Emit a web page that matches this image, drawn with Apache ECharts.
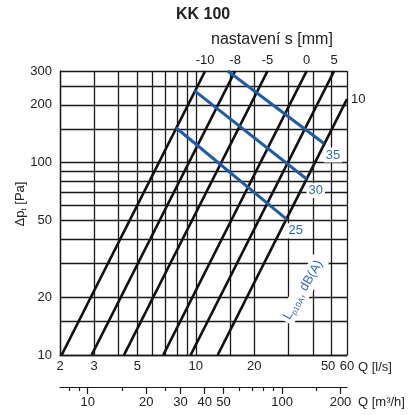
<!DOCTYPE html>
<html>
<head>
<meta charset="utf-8">
<style>
  html, body { margin: 0; padding: 0; background: #fff; }
  #chart { width: 408px; height: 415px; }
</style>
<script src="https://cdn.jsdelivr.net/npm/echarts@6/dist/echarts.min.js"></script>
</head>
<body>
<div id="chart"></div>
<script>
// mřížka a popisky os
const qGrid = [2, 3, 4, 5, 6, 7, 8, 9, 10, 15, 20, 30, 40, 50, 60]
const qLabels = [2, 3, 5, 10, 20, 50, 60]
const pGrid = [10, 15, 20, 30, 40, 50, 60, 70, 80, 90, 100, 150, 200, 250, 300]
const pLabels = [10, 20, 50, 100, 200, 300]
const m3hMajor = [10, 20, 30, 40, 50, 100, 200]
const m3hMinor = [8, 9, 15, 25, 60, 70, 80, 90, 150]

// nastavení s [mm] - koncové body čar [Q l/s, dp Pa]
const settings = ["-10", "-8", "-5", "0", "5", "10"]
const settingLines = [
    [[2.04, 10], [11.17, 300]],
    [[2.91, 10], [15.94, 300]],
    [[4.27, 10], [23.4, 300]],
    [[6.80, 10], [37.2, 300]],
    [[9.41, 10], [51.5, 300]],
    [[12.96, 10], [60, 214]],
]

// hladina hluku Lp10A dB(A)
const soundLevels = ["25", "30", "35"]
const soundLines = [
    [[7.91, 152], [29.4, 50.8]],
    [[9.83, 237], [37.2, 82.3]],
    [[14.6, 300], [45.7, 126]],
]

const font = "'Liberation Sans', Arial, sans-serif"
const ink = "#1a1a1a"
const blue = "#1f5ca8"
const blueText = "#2e6db6"

const chart = echarts.init(document.getElementById("chart"), null, { renderer: "canvas" })

const series = []
settingLines.forEach((pts, i) => {
    const last = i === settingLines.length - 1
    series.push({
        type: "line",
        silent: true,
        symbol: "circle",
        symbolSize: 0.1,
        showSymbol: true,
        z: 3,
        itemStyle: { color: "#111" },
        lineStyle: { color: "#111", width: 2.7 },
        data: [
            { value: pts[0] },
            {
                value: pts[1],
                label: {
                    show: true,
                    formatter: settings[i],
                    position: last ? "right" : "top",
                    distance: 4,
                    color: "#222",
                    fontFamily: font,
                    fontSize: 13,
                },
            },
        ],
    })
})
soundLines.forEach((pts, i) => {
    series.push({
        type: "line",
        silent: true,
        symbol: "circle",
        symbolSize: 0.1,
        showSymbol: true,
        z: 4,
        itemStyle: { color: blue },
        lineStyle: { color: blue, width: 3 },
        data: [
            { value: pts[0] },
            {
                value: pts[1],
                label: {
                    show: true,
                    formatter: soundLevels[i],
                    position: "bottom",
                    distance: 4,
                    offset: [9, 0],
                    color: blueText,
                    fontFamily: font,
                    fontSize: 13,
                    backgroundColor: "#fff",
                    padding: [1, 2],
                },
            },
        ],
    })
})

const tickLabel = { fontFamily: font, fontSize: 13, color: "#222" }

const option = {
    animation: false,
    title: [
        {
            text: "KK 100",
            left: 171,
            top: 2,
            textStyle: { fontFamily: font, fontSize: 16, fontWeight: "bold", color: "#222" },
        },
        {
            text: "nastavení s [mm]",
            left: 206,
            top: 27,
            textStyle: { fontFamily: font, fontSize: 16, fontWeight: "normal", color: "#222" },
        },
    ],
    grid: { left: 60, top: 71, right: 61, bottom: 60, outerBoundsMode: "none" },
    xAxis: [
        {
            type: "log",
            logBase: 10,
            min: 2,
            max: 60,
            position: "bottom",
            name: "Q [l/s]",
            nameLocation: "end",
            nameGap: 11,
            nameMoveOverlap: false,
            nameTextStyle: { ...tickLabel, verticalAlign: "top", padding: [6, 0, 0, 0] },
            axisLine: { show: true, lineStyle: { color: ink, width: 1.3 } },
            axisTick: { show: false, customValues: qGrid },
            axisLabel: {
                ...tickLabel,
                customValues: qLabels,
                margin: 5,
                formatter: v => (v === 50 ? "{l|50}" : String(v)),
                rich: { l: { ...tickLabel, padding: [0, 7, 0, 0] } },
            },
            splitLine: { show: true, lineStyle: { color: ink, width: 1.3 } },
        },
        {
            type: "log",
            logBase: 10,
            min: 7.2,
            max: 216,
            position: "bottom",
            offset: 32,
            name: "Q [m³/h]",
            nameLocation: "end",
            nameGap: 11,
            nameMoveOverlap: false,
            nameTextStyle: { ...tickLabel, verticalAlign: "top", padding: [9, 0, 0, 0] },
            axisLine: { show: true, lineStyle: { color: ink, width: 1.2 } },
            axisTick: { show: true, customValues: m3hMajor, length: 7, lineStyle: { color: ink, width: 1.2 } },
            axisLabel: { ...tickLabel, customValues: m3hMajor, margin: 9 },
            splitLine: { show: false },
        },
        {
            type: "log",
            logBase: 10,
            min: 7.2,
            max: 216,
            position: "bottom",
            offset: 32,
            axisLine: { show: false },
            axisTick: { show: true, customValues: m3hMinor, length: 4, lineStyle: { color: ink, width: 1.2 } },
            axisLabel: { show: false },
            splitLine: { show: false },
        },
    ],
    yAxis: {
        type: "log",
        logBase: 10,
        min: 10,
        max: 300,
        name: "{a|Δp}{s|t}{a| [Pa]}",
        nameLocation: "middle",
        nameGap: 32,
        nameRotate: 90,
        nameMoveOverlap: false,
        nameTextStyle: {
            padding: [0, 0, 0, 18],
            rich: {
                a: { fontFamily: font, fontSize: 13, color: "#222", lineHeight: 16 },
                s: { fontFamily: font, fontSize: 8, color: "#222", lineHeight: 16, verticalAlign: "bottom" },
            },
        },
        axisLine: { show: true, lineStyle: { color: ink, width: 1.3 } },
        axisTick: { show: false, customValues: pGrid },
        axisLabel: { ...tickLabel, customValues: pLabels, margin: 8 },
        splitLine: { show: true, lineStyle: { color: ink, width: 1.3 } },
    },
    graphic: [
        {
            type: "text",
            x: 303,
            y: 290,
            rotation: Math.PI / 3,
            z: 10,
            style: {
                text: "{n|L}{s|p10A}{n|, dB(A)}",
                align: "center",
                verticalAlign: "middle",
                backgroundColor: "#fff",
                padding: [1, 3],
                rich: {
                    n: { fontFamily: font, fontSize: 13, fill: blueText, lineHeight: 16 },
                    s: { fontFamily: font, fontSize: 8, fill: blueText, lineHeight: 16, verticalAlign: "bottom" },
                },
            },
        },
    ],
    series,
}
chart.setOption(option)
</script>
</body>
</html>
